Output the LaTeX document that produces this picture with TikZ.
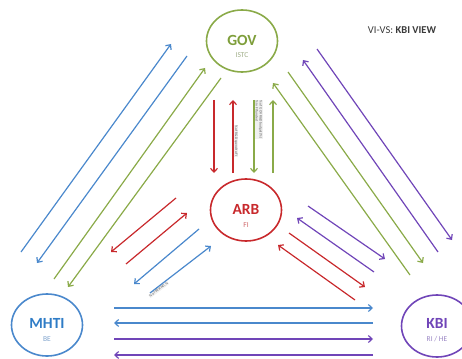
\documentclass[tikz,border=0pt]{standalone}
\usepackage{fontspec}
\setmainfont{Carlito}
\usetikzlibrary{arrows.meta,shapes.geometric}
\definecolor{govgreen}{HTML}{8AAA48}
\definecolor{govtext}{HTML}{7E9E3A}
\definecolor{govsub}{HTML}{A0AE88}
\definecolor{arbred}{HTML}{C8292C}
\definecolor{arbsub}{HTML}{D0686A}
\definecolor{bluef}{HTML}{4A88CC}
\definecolor{mhtitext}{HTML}{2F7CC6}
\definecolor{mhtisub}{HTML}{7FA3CC}
\definecolor{purplef}{HTML}{7045B8}
\definecolor{kbisub}{HTML}{9A86C4}
\definecolor{titlegray}{HTML}{3A3A3A}
\begin{document}
\begin{tikzpicture}[x=1pt,y=-1pt,
  actor/.style={draw, ellipse, line width=1.6pt, minimum width=71pt, minimum height=62pt, inner sep=0pt},
  flow/.style={line width=1.2pt, -{Straight Barb[length=3.8pt,width=7pt]}},
  actorname/.style={font=\fontsize{15.5}{16}\selectfont\bfseries},
  actorsub/.style={font=\fontsize{7.5}{7.5}\selectfont},
  tag/.style={font=\fontsize{3.6}{3.9}\selectfont, text=black!65, fill=black!6, inner sep=0.4pt, align=left}]
\useasboundingbox (0,0) rectangle (462,358);

% actors
\node[actor, draw=govgreen] (gov) at (242,41) {};
\node[actorname, text=govtext] (govn) at (242,40) {GOV};
\node[actorsub, text=govsub] (govs) at (242,55) {ISTC};

\node[actor, draw=arbred] (arb) at (246,210) {};
\node[actorname, text=arbred] (arbn) at (246,209) {ARB};
\node[actorsub, text=arbsub] (arbs) at (246,225) {FI};

\node[actor, draw=bluef] (mhti) at (47,325) {};
\node[actorname, text=mhtitext] (mhtin) at (47,323) {MHTI};
\node[actorsub, text=mhtisub] (mhtis) at (47,339) {BE};

\node[actor, draw=purplef] (kbi) at (437,326) {};
\node[actorname, text=purplef] (kbin) at (437,323) {KBI};
\node[actorsub, text=kbisub] (kbis) at (437,339) {RI / HE};

\node[font=\fontsize{10.5}{10.5}\selectfont, text=titlegray] (title) at (402,30) {VI-VS: \textbf{KBI VIEW}};

% flow end points: MHTI -- GOV
\coordinate (mg1a) at (21,252);  \coordinate (mg1b) at (171,44);
\coordinate (mg2a) at (187,56);  \coordinate (mg2b) at (37,263);
\coordinate (mg3a) at (54,279);  \coordinate (mg3b) at (205,68);
\coordinate (mg4a) at (221,78);  \coordinate (mg4b) at (68,287);
% GOV -- ARB
\coordinate (ga1a) at (214,100); \coordinate (ga1b) at (214,173);
\coordinate (ga2a) at (233,173); \coordinate (ga2b) at (233,100);
\coordinate (ga3a) at (254,100); \coordinate (ga3b) at (254,173);
\coordinate (ga4a) at (273,173); \coordinate (ga4b) at (273,100);
% ARB -- MHTI
\coordinate (am1a) at (176,198); \coordinate (am1b) at (111,252);
\coordinate (am2a) at (126,264); \coordinate (am2b) at (187,213);
\coordinate (am3a) at (199,229); \coordinate (am3b) at (134,284);
\coordinate (am4a) at (150,293); \coordinate (am4b) at (211,246);
% GOV -- KBI
\coordinate (gk1a) at (317,49);  \coordinate (gk1b) at (452,240);
\coordinate (gk2a) at (438,252); \coordinate (gk2b) at (303,60);
\coordinate (gk3a) at (288,72);  \coordinate (gk3b) at (423,263);
\coordinate (gk4a) at (410,275); \coordinate (gk4b) at (273,83);
% ARB -- KBI
\coordinate (ak1a) at (308,206); \coordinate (ak1b) at (385,259);
\coordinate (ak2a) at (374,272); \coordinate (ak2b) at (297,218);
\coordinate (ak3a) at (289,233); \coordinate (ak3b) at (365,287);
\coordinate (ak4a) at (355,300); \coordinate (ak4b) at (278,245);
% MHTI -- KBI
\coordinate (mk1a) at (114,308); \coordinate (mk1b) at (373,308);
\coordinate (mk2a) at (373,323); \coordinate (mk2b) at (114,323);
\coordinate (mk3a) at (114,339); \coordinate (mk3b) at (373,339);
\coordinate (mk4a) at (373,355); \coordinate (mk4b) at (114,355);

\draw[flow, bluef]    (mg1a) -- (mg1b);
\draw[flow, bluef]    (mg2a) -- (mg2b);
\draw[flow, govgreen] (mg3a) -- (mg3b);
\draw[flow, govgreen] (mg4a) -- (mg4b);

% small flow annotations (set under the arrows they describe)
\node[tag, rotate=-90, anchor=south west] (tag1) at (234,125) {\% of R\&D spend to FI};
\node[tag, rotate=-90, anchor=south west] (tag2) at (255,100) {\% of GOV R\&D budget (\%)\\\% in FI funded};
\node[tag, rotate=37, anchor=north west] (tag3) at (148,295) {\% of BE R\&D, \%};

\draw[flow, arbred]   (ga1a) -- (ga1b);
\draw[flow, arbred]   (ga2a) -- (ga2b);
\draw[flow, govgreen] (ga3a) -- (ga3b);
\draw[flow, govgreen] (ga4a) -- (ga4b);

\draw[flow, arbred]   (am1a) -- (am1b);
\draw[flow, arbred]   (am2a) -- (am2b);
\draw[flow, bluef]    (am3a) -- (am3b);
\draw[flow, bluef]    (am4a) -- (am4b);

\draw[flow, purplef]  (gk1a) -- (gk1b);
\draw[flow, purplef]  (gk2a) -- (gk2b);
\draw[flow, govgreen] (gk3a) -- (gk3b);
\draw[flow, govgreen] (gk4a) -- (gk4b);

\draw[flow, purplef]  (ak1a) -- (ak1b);
\draw[flow, purplef]  (ak2a) -- (ak2b);
\draw[flow, arbred]   (ak3a) -- (ak3b);
\draw[flow, arbred]   (ak4a) -- (ak4b);

\draw[flow, bluef]    (mk1a) -- (mk1b);
\draw[flow, bluef]    (mk2a) -- (mk2b);
\draw[flow, purplef]  (mk3a) -- (mk3b);
\draw[flow, purplef]  (mk4a) -- (mk4b);
\end{tikzpicture}
\end{document}
